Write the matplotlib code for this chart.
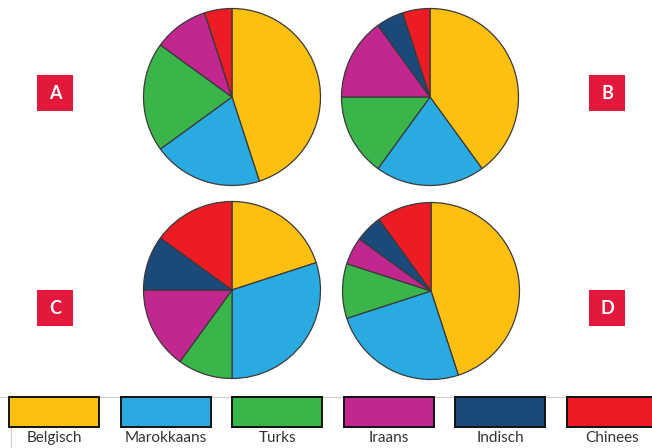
import matplotlib.pyplot as plt
from matplotlib.patches import Rectangle

# groups and their share per pie (percent), clockwise from 12 o'clock
groups = ['Belgisch', 'Marokkaans', 'Turks', 'Iraans', 'Indisch', 'Chinees']
colors = ['#FDC010', '#29ABE2', '#3AB54A', '#C1278E', '#1B4A7A', '#ED1C24']

pie_a = [45, 20, 20, 10, 0, 5]
pie_b = [40, 20, 15, 15, 5, 5]
pie_c = [20, 30, 10, 15, 10, 15]
pie_d = [45, 25, 10, 5, 5, 10]

pies = {'A': pie_a, 'B': pie_b, 'C': pie_c, 'D': pie_d}

W, H = 652, 448
fig = plt.figure(figsize=(W / 100, H / 100), dpi=100)
ax = fig.add_axes([0, 0, 1, 1])

# pixel layout (y measured from top)
pie_pos = {'A': (232, 97), 'B': (430, 97), 'C': (232, 290), 'D': (431, 291)}
label_pos = {'A': (55, 93), 'B': (607, 93), 'C': (55, 308), 'D': (607, 308)}
radius = 88.5

for key, vals in pies.items():
    cx, cy = pie_pos[key]
    ax.pie(vals, colors=colors, startangle=90, counterclock=False,
           center=(cx, H - cy), radius=radius, frame=True,
           wedgeprops=dict(edgecolor='#3a3a3a', linewidth=0.9))
    lx, ly = label_pos[key]
    ax.add_patch(Rectangle((lx - 18, H - ly - 18), 36, 36,
                           facecolor='#E2193C', edgecolor='none'))
    ax.text(lx, H - ly, key, color='white', fontsize=13, fontweight='bold',
            family='Lato', ha='center', va='center')

# legend strip
ax.plot([0, W], [H - 397, H - 397], color='#cccccc', lw=0.8, zorder=0)
ax.plot([11, 11], [H - 427, 0], color='#cccccc', lw=0.8, zorder=0)
for i, (name, col) in enumerate(zip(groups, colors)):
    x0 = 9 + i * 111.6
    ax.add_patch(Rectangle((x0, H - 427), 90, 30, facecolor=col,
                           edgecolor='#111111', linewidth=1.4))
    ax.text(x0 + 45, H - 438, name, fontsize=11, family='Lato',
            color='#333333', ha='center', va='center')

ax.set_xlim(0, W)
ax.set_ylim(0, H)
ax.set_aspect('auto')
ax.axis('off')

fig.savefig('out.png', dpi=100)
